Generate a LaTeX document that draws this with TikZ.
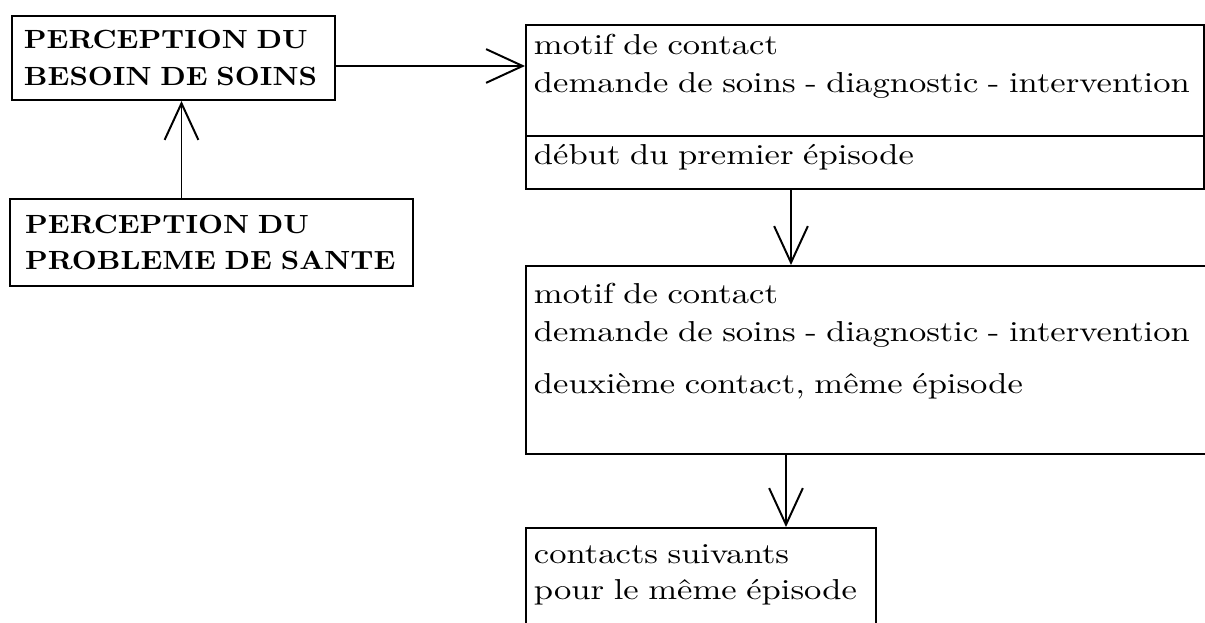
\documentclass[tikz,border=0pt]{standalone}
\usepackage{fontspec}
\setmainfont{lmroman10-regular}[Extension=.otf, BoldFont=lmroman10-bold, FakeStretch=1.2, BoldFeatures={FakeStretch=1.1}]
\usetikzlibrary{positioning}
\usetikzlibrary{arrows.meta}
\usetikzlibrary{shapes.multipart}
\tikzset{>={Straight Barb[length=13pt,width=12pt]}}
\tikzstyle{capsbox}=[draw=black,line width=0.7pt,anchor=north west,align=left,font=\fontsize{9.35}{13}\selectfont\bfseries]
\tikzstyle{textbox}=[draw=black,line width=0.7pt,anchor=north west,align=left,font=\fontsize{10.25}{13.5}\selectfont,inner xsep=1mm]
\tikzstyle{flow}=[->,line width=0.7pt,color=black]

\begin{document}
\begin{tikzpicture}[x=0.125mm,y=-0.125mm]
	\useasboundingbox (0,0) rectangle (1205,622);

	% Perception
	\node[capsbox, text width=37.375mm, inner xsep=1.5mm, minimum height=10.5mm] (besoin) at (11,15) {PERCEPTION DU\\BESOIN DE SOINS};
	\node[capsbox, text width=46.6mm, inner xsep=1.9mm, minimum height=10.875mm] (sante) at (9,198) {PERCEPTION DU\\PROBLEME DE SANTE};

	% Contacts
	\node[textbox, rectangle split, rectangle split parts=2, text width=82.75mm, inner ysep=1mm] (motif) at (525,24) {motif de contact\\demande de soins - diagnostic - intervention\rule[-12.3pt]{0pt}{12.3pt}\nodepart{two}début du premier épisode\rule[-5.5pt]{0pt}{5.5pt}};
	\node[textbox, text width=85.5mm, inner ysep=2.2mm] (deuxieme) at (525,265) {motif de contact\\demande de soins - diagnostic - intervention\\[5pt]deuxième contact, même épisode\rule[-15pt]{0pt}{15pt}};
	\node[textbox, text width=41.75mm, inner ysep=2.125mm] (suite) at (525,527) {contacts suivants\\[-1pt]pour le même épisode\rule[-9pt]{0pt}{9pt}};

	% Arrows
	\coordinate (up) at ([xshift=1mm]besoin.south);
	\draw[flow] (up |- sante.north) -- (up);
	\coordinate (out) at ([yshift=-1mm]besoin.east);
	\draw[flow] (out) -- (out -| motif.west);
	\coordinate (drop) at (791,0);
	\draw[flow] (drop |- motif.south) -- (drop |- deuxieme.north);
	\coordinate (next) at (786,0);
	\draw[flow] (next |- deuxieme.south) -- (next |- suite.north);
\end{tikzpicture}
\end{document}
